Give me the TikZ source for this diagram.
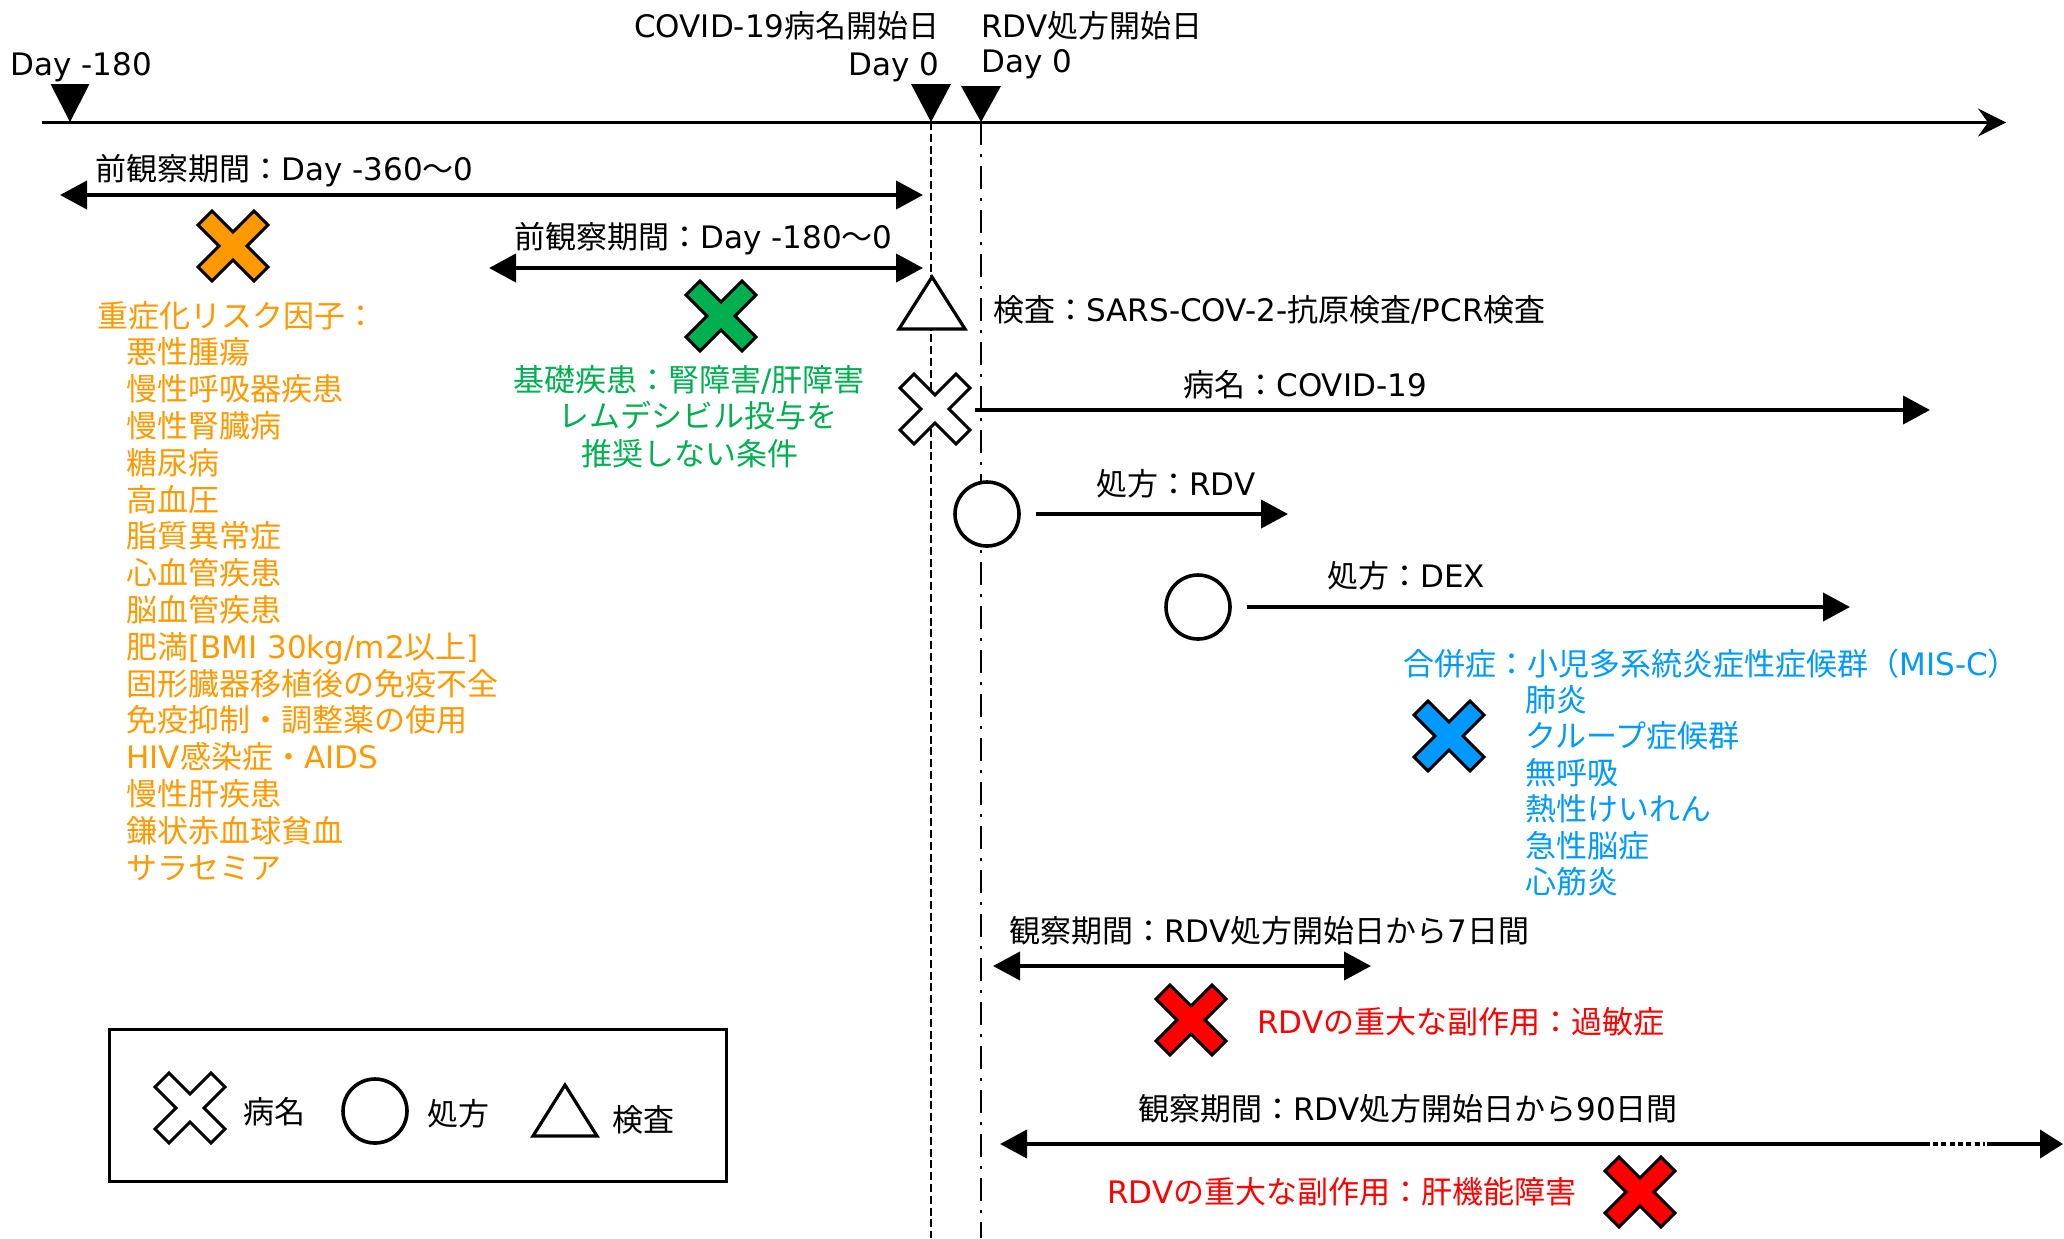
\documentclass[tikz,border=0pt]{standalone}
\usepackage{fontspec}
\setmainfont{Noto Sans CJK JP}
\newfontfamily\enfont{DejaVu Sans}
\usetikzlibrary{arrows.meta}
\definecolor{xorange}{HTML}{FF9900}
\definecolor{xgreen}{HTML}{00B050}
\definecolor{xblue}{HTML}{0099FF}
\definecolor{xred}{HTML}{FF0000}

\begin{document}
\begin{tikzpicture}[
	x=0.5pt, y=-0.5pt,
	every node/.style={ inner sep=0pt, font=\fontsize{15.5pt}{18pt}\selectfont },
	axis/.style={ line width=1.75pt, -{Stealth[length=14pt,width=14pt,inset=5pt]} },
	span/.style={ line width=2pt, {Triangle[length=13.5pt,width=14pt]}-{Triangle[length=13.5pt,width=14pt]} },
	ray/.style={ line width=2pt, -{Triangle[length=13.5pt,width=14pt]} },
	dayzero/.style={ line width=1.3pt, dash pattern=on 4pt off 1.9pt },
	rdvzero/.style={ line width=1pt, dash pattern=on 11.5pt off 4.5pt on 1.5pt off 4.5pt },
	rx/.style={ circle, draw, fill=white, line width=1.8pt, minimum size=32pt },
	test/.style={ draw, fill=white, line width=1.6pt, line join=miter },
	xmark/.pic={ \path[draw, line width=1.5pt, line join=miter, pic actions] (0,-14) -- (21,-35) -- (35,-21) -- (14,0) -- (35,21) -- (21,35) -- (0,14) -- (-21,35) -- (-35,21) -- (-14,0) -- (-35,-21) -- (-21,-35) -- cycle; }
]

\useasboundingbox (0,0) rectangle (2064,1238);

\coordinate (ax0) at (42,122.5);
\coordinate (ax1) at (2006,122.5);
\coordinate (dm) at (70,122);
\coordinate (dc) at (931,122);
\coordinate (dr) at (981,122);
\coordinate (dcend) at (931,1238);
\coordinate (drend) at (981,1238);

\draw[dayzero] (dc) to (dcend);
\draw[rdvzero] (dr) to (drend);
\draw[axis] (ax0) to (ax1);
\fill (dm) -- ++(-19.5,-38) -- ++(39,0) -- cycle;
\fill (dc) -- ++(-20,-38) -- ++(40,0) -- cycle;
\fill (dr) -- ++(-20,-36) -- ++(40,0) -- cycle;

\node[anchor=base west] at (10,75) (lm) {\enfont Day -180};
\node[anchor=base east] at (940,37) (lc1) {{\enfont COVID-19}病名開始日};
\node[anchor=base east] at (940,75) (lc2) {\enfont Day 0};
\node[anchor=base west] at (981,37) (lr1) {{\enfont RDV}処方開始日};
\node[anchor=base west] at (981,72) (lr2) {\enfont Day 0};

\coordinate (p1a) at (60,195);
\coordinate (p1b) at (923,195);
\draw[span] (p1a) to (p1b);
\node[anchor=base west] at (95,180) (p1) {前観察期間：{\enfont Day -360}〜{\enfont 0}};
\coordinate (p2a) at (489,268);
\coordinate (p2b) at (923,268);
\draw[span] (p2a) to (p2b);
\node[anchor=base west] at (514,248) (p2) {前観察期間：{\enfont Day -180}〜{\enfont 0}};

\pic[fill=xorange] at (233,246) {xmark};
\node[anchor=base west, text=xorange] at (97,327) (risk) {重症化リスク因子：};
\foreach \t [count=\i] in {悪性腫瘍, 慢性呼吸器疾患, 慢性腎臓病, 糖尿病, 高血圧, 脂質異常症, 心血管疾患, 脳血管疾患, 肥満{\enfont [BMI 30kg/m2}以上{\enfont ]}, 固形臓器移植後の免疫不全, 免疫抑制・調整薬の使用, {{\enfont HIV}感染症・{\enfont AIDS}}, 慢性肝疾患, 鎌状赤血球貧血, サラセミア}
	\node[anchor=base west, text=xorange] at (126,{327+36.8*\i}) (risk\i) {\t};

\pic[fill=xgreen] at (721,316) {xmark};
\node[anchor=base, text=xgreen] at (689,391) (base1) {基礎疾患：腎障害{\enfont /}肝障害};
\node[anchor=base, text=xgreen] at (698,427) (base2) {レムデシビル投与を};
\node[anchor=base, text=xgreen] at (690,465) (base3) {推奨しない条件};

\draw[test] (932,277) -- (965,329) -- (899,329) -- cycle;
\node[anchor=base west] at (993,321) (exam) {検査：{\enfont SARS-COV-2-}抗原検査{\enfont /PCR}検査};

\pic[fill=white] at (935,409) {xmark};
\coordinate (dxa) at (975,410);
\coordinate (dxb) at (1930,410);
\draw[ray] (dxa) to (dxb);
\node[anchor=base west] at (1183,396) (dx) {病名：{\enfont COVID-19}};

\node[rx] at (987,514) (rdv) {};
\coordinate (rdvb) at (1288,514);
\draw[ray] ([xshift=7.5pt]rdv.east) to (rdvb);
\node[anchor=base west] at (1096,495) (rdvlab) {処方：{\enfont RDV}};

\node[rx] at (1198,607) (dex) {};
\coordinate (dexb) at (1850,607);
\draw[ray] ([xshift=7.5pt]dex.east) to (dexb);
\node[anchor=base west] at (1327,587) (dexlab) {処方：{\enfont DEX}};

\node[anchor=base west, text=xblue] at (1403,675) (comp) {合併症：小児多系統炎症性症候群（{\enfont MIS-C}）};
\foreach \t [count=\i] in {肺炎, クループ症候群, 無呼吸, 熱性けいれん, 急性脳症, 心筋炎}
	\node[anchor=base west, text=xblue] at (1525,{675+36.4*\i}) (comp\i) {\t};
\pic[fill=xblue] at (1449,736) {xmark};

\coordinate (o7a) at (993,966);
\coordinate (o7b) at (1371,966);
\draw[span] (o7a) to (o7b);
\node[anchor=base west] at (1009,942) (o7) {観察期間：{\enfont RDV}処方開始日から{\enfont 7}日間};
\pic[fill=xred] at (1191,1020) {xmark};
\node[anchor=base west, text=xred] at (1257,1033) (ae1) {{\enfont RDV}の重大な副作用：過敏症};

\coordinate (o90a) at (1000,1144);
\coordinate (o90b) at (1930,1144);
\coordinate (o90c) at (1933,1144);
\coordinate (o90d) at (1985,1144);
\coordinate (o90e) at (1987,1144);
\coordinate (o90f) at (2063,1144);
\draw[line width=2pt, {Triangle[length=13.5pt,width=14pt]}-] (o90a) to (o90b);
\draw[line width=2pt, dash pattern=on 2.5pt off 1.65pt] (o90c) to (o90d);
\draw[line width=2pt, -{Triangle[length=11.5pt,width=14pt]}] (o90e) to (o90f);
\node[anchor=base west] at (1138,1120) (o90) {観察期間：{\enfont RDV}処方開始日から{\enfont 90}日間};
\node[anchor=base west, text=xred] at (1107,1203) (ae2) {{\enfont RDV}の重大な副作用：肝機能障害};
\pic[fill=xred] at (1640,1192) {xmark};

\draw[line width=1.5pt] (109,1029) rectangle (726,1181);
\pic[fill=white] at (190,1108) {xmark};
\node[anchor=base] at (274,1123) (lg1) {病名};
\node[rx] at (375,1111) (lg2c) {};
\node[anchor=base] at (458,1125) (lg2) {処方};
\draw[test] (565,1085) -- (597,1136) -- (533,1136) -- cycle;
\node[anchor=base] at (643,1131) (lg3) {検査};

\end{tikzpicture}
\end{document}
